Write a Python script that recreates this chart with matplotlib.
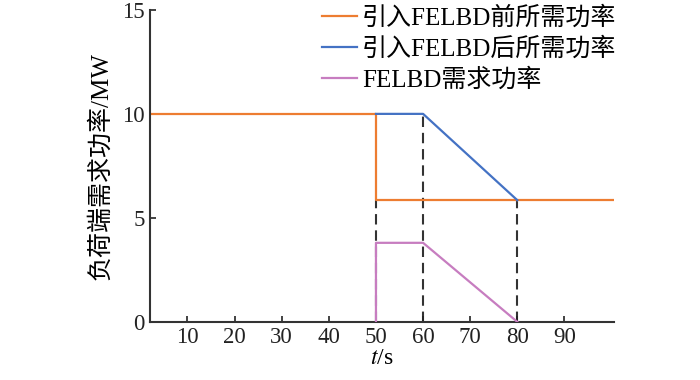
import matplotlib
matplotlib.use('Agg')
import matplotlib.pyplot as plt

plt.rcParams['font.family'] = ['Liberation Serif', 'Noto Sans CJK SC']
plt.rcParams['mathtext.fontset'] = 'stix'

# 曲线数据
before_x = [0, 50, 50, 101]
before_y = [10, 10, 5.85, 5.85]
after_x = [50, 60, 80]
after_y = [10, 10, 5.85]
felbd_x = [50, 50, 60, 80]
felbd_y = [0, 3.8, 3.8, 0]

# 虚线辅助线
guide_x = [50, 60, 80]
guide_top = [5.85, 10, 5.85]

labels = ['引入FELBD前所需功率', '引入FELBD后所需功率', 'FELBD需求功率']
colors = ['#ED7D31', '#4472C4', '#C77DC0']

fig = plt.figure(figsize=(7, 3.8), dpi=100)
ax = fig.add_axes([0.214, 0.153, 0.663, 0.821])

for gx, gt in zip(guide_x, guide_top):
    ax.plot([gx, gx], [0, gt], color='#333333', lw=1.5, ls=(0, (5, 2.8)), zorder=1)

ax.plot(before_x, before_y, color=colors[0], lw=1.6, label=labels[0], zorder=2)
ax.plot(after_x, after_y, color=colors[1], lw=1.6, label=labels[1], zorder=3)
ax.plot(felbd_x, felbd_y, color=colors[2], lw=1.6, label=labels[2], zorder=3)

ax.set_xlim(2.0, 100.5)
ax.set_ylim(0, 15)
ax.set_xticks(range(10, 100, 10))
ax.set_yticks([0, 5, 10, 15])
ax.tick_params(direction='in', labelsize=16.5, length=4, width=1.2, colors='#222222')
for s in ['top', 'right']:
    ax.spines[s].set_visible(False)
for s in ['left', 'bottom']:
    ax.spines[s].set_linewidth(1.5)
    ax.spines[s].set_color('#333333')

ax.set_xlabel('$t$/s', fontsize=17, labelpad=0)
ax.set_ylabel('负荷端需求功率/MW', fontsize=18, labelpad=7)

leg = fig.legend(loc='upper left', bbox_to_anchor=(322 / 700, 1 - 6 / 380), frameon=False,
                 fontsize=18, handlelength=1.4, handletextpad=0.2, labelspacing=0.3,
                 borderaxespad=0, borderpad=0)

fig.savefig('out.png', dpi=100)
